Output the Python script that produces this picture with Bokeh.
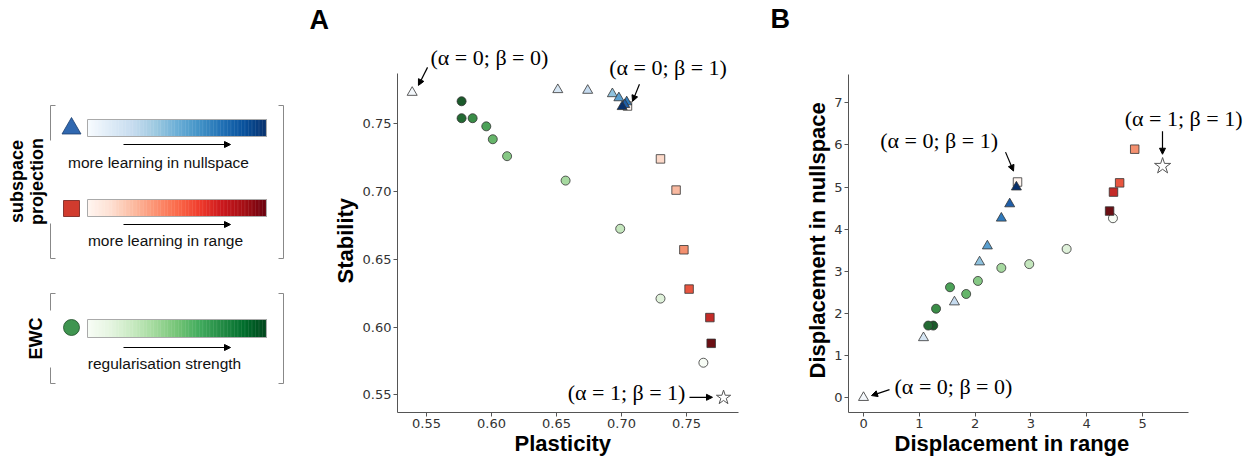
import numpy as np
from bokeh.plotting import figure
from bokeh.layouts import row
from bokeh.models import Range1d, FixedTicker, Arrow, NormalHead, Title
from bokeh.palettes import Blues256, Reds256, Greens256
from bokeh.core.properties import value
from bokeh.embed import file_html
from bokeh.resources import INLINE

# ---------------- data ----------------
# subspace projection, nullspace (triangles), light -> dark
tri_colors = ["#f4f8fc", "#d6e6f4", "#c6dbef", "#8fc2de", "#5a9fcf", "#2f7abc", "#1f5ea8", "#08306b"]
a_tri_plasticity = [0.539, 0.651, 0.674, 0.693, 0.698, 0.704, 0.7025, 0.7005]
a_tri_stability = [0.773, 0.775, 0.7745, 0.772, 0.769, 0.766, 0.764, 0.7625]
b_tri_range = [0.0, 1.075, 1.63, 2.08, 2.22, 2.47, 2.62, 2.74]
b_tri_null = [0.0, 1.42, 2.27, 3.22, 3.60, 4.26, 4.60, 5.00]

# subspace projection, range (squares)
a_sq_colors = ["#fff5f0", "#fcd9c9", "#f9b9a0", "#f4906f", "#e8553f", "#c42b28", "#6b0f14"]
a_sq_plasticity = [0.7046, 0.730, 0.742, 0.748, 0.752, 0.768, 0.769]
a_sq_stability = [0.763, 0.724, 0.701, 0.657, 0.628, 0.607, 0.588]
b_sq_colors = ["#fff5f0", "#f4906f", "#e8553f", "#c42b28", "#6b0f14"]
b_sq_range = [2.76, 4.86, 4.59, 4.48, 4.41]
b_sq_null = [5.12, 5.90, 5.10, 4.88, 4.43]

# EWC (circles), dark -> light
circ_colors = ["#1b5a2b", "#236a33", "#3a8d47", "#4ca258", "#66b56a", "#86c885", "#a6d9a0", "#c4e6bd", "#dff1da", "#f7fcf5"]
a_circ_plasticity = [0.577, 0.577, 0.5855, 0.596, 0.601, 0.612, 0.657, 0.699, 0.730, 0.763]
a_circ_stability = [0.7665, 0.754, 0.754, 0.748, 0.7385, 0.726, 0.708, 0.6725, 0.621, 0.5737]
b_circ_range = [1.25, 1.16, 1.30, 1.55, 1.84, 2.05, 2.47, 2.97, 3.64, 4.47]
b_circ_null = [1.71, 1.71, 2.11, 2.62, 2.46, 2.77, 3.08, 3.17, 3.53, 4.26]

# alpha = 1; beta = 1 (star)
a_star = (0.7785, 0.548)
b_star = (5.36, 5.50)

a_xticks = [0.55, 0.60, 0.65, 0.70, 0.75]
a_yticks = [0.55, 0.60, 0.65, 0.70, 0.75]
b_xticks = [0, 1, 2, 3, 4, 5]
b_yticks = [0, 1, 2, 3, 4, 5, 6, 7]

LAB_FONT = "Liberation Sans"
TICK_FONT = "DejaVu Sans"
ANN_FONT = "Liberation Serif"
EDGE = "#333333"


def axis_title(p, text, side, offset):
    p.add_layout(Title(text=text, align="left", offset=offset, text_font=LAB_FONT,
                       text_font_style="bold", text_font_size="22px", text_color="black",
                       standoff=0, vertical_align="top"), side)


def style_axes(p, xticks, yticks, fmt, xbounds, ybounds):
    p.xaxis.ticker = FixedTicker(ticks=xticks)
    p.yaxis.ticker = FixedTicker(ticks=yticks)
    p.xaxis.major_label_overrides = {t: fmt(t) for t in xticks}
    p.yaxis.major_label_overrides = {t: fmt(t) for t in yticks}
    p.xaxis.bounds = xbounds
    p.yaxis.bounds = ybounds
    for ax in (p.xaxis, p.yaxis):
        ax.major_label_text_font = TICK_FONT
        ax.major_label_text_font_size = "13px"
        ax.major_label_text_color = "#333333"
        ax.axis_line_color = "#555555"
        ax.major_tick_line_color = "#555555"
        ax.major_tick_out = 4
        ax.major_tick_in = 0
        ax.minor_tick_out = 0
        ax.minor_tick_in = 0
        ax.major_label_standoff = 2
    p.grid.visible = False
    p.outline_line_color = None
    p.background_fill_color = "white"
    p.border_fill_color = "white"


def annotate(p, x, y, label, align="left"):
    p.text(x=[x], y=[y], text=[label], text_font=value(ANN_FONT), text_font_size="22px",
           text_align=align, text_baseline="middle", text_color="black")


def arrow(p, x0, y0, x1, y1):
    p.add_layout(Arrow(end=NormalHead(size=6, fill_color="black", line_color="black", line_width=1),
                       x_start=x0, y_start=y0, x_end=x1, y_end=y1, line_color="black", line_width=1.2))


# ---------------- legend panel ----------------
# frame covers pixel rows 0..412 (aligned with the panels' frames); y runs downward
pl = figure(width=330, height=458, x_range=Range1d(0, 330), y_range=Range1d(412, 0),
            x_axis_type=None, y_axis_type=None,
            output_backend="svg", toolbar_location=None, min_border_left=0, min_border_right=0,
            min_border_top=0, min_border_bottom=46)
pl.grid.visible = False
pl.outline_line_color = None

bar_left, bar_right = 87, 266
bars = [(119, 136, Blues256), (199, 216, Reds256), (319, 337, Greens256)]
for top, bottom, pal in bars:
    cols = list(reversed(pal))[::2]
    n = len(cols)
    w = (bar_right - bar_left) / n
    lefts = [bar_left + i * w for i in range(n)]
    pl.quad(left=lefts, right=[l + w + 0.4 for l in lefts], top=[top] * n, bottom=[bottom] * n,
            fill_color=cols, line_color=None)
    pl.quad(left=[bar_left], right=[bar_right], top=[top], bottom=[bottom], fill_color=None,
            line_color="#aaaaaa", line_width=1)

pl.scatter(x=[71], y=[128], marker="triangle", size=19, fill_color="#3068b0", line_color="#1d3f6e", line_width=0.8)
pl.scatter(x=[71], y=[208], marker="square", size=16, fill_color="#d13b2e", line_color="#6e1c16", line_width=0.8)
pl.scatter(x=[71], y=[327], marker="circle", size=16, fill_color="#3f9550", line_color="#1e4d27", line_width=0.8)

for yy in (144, 224, 347):
    arrow(pl, 123, yy, 230, yy)

leg_texts = ["more learning in nullspace", "more learning in range", "regularisation strength"]
pl.text(x=[158, 165, 164], y=[162, 240, 363], text=leg_texts, text_font=value(LAB_FONT),
        text_font_size="15.5px", text_align="center", text_baseline="middle", text_color="#111111")

pl.text(x=[26], y=[181], text=["subspace\nprojection"], angle=np.pi / 2, text_font=value(LAB_FONT),
        text_font_style="bold", text_font_size="18px", text_align="center", text_baseline="middle",
        text_line_height=1.0)
pl.text(x=[35], y=[338], text=["EWC"], angle=np.pi / 2, text_font=value(LAB_FONT),
        text_font_style="bold", text_font_size="18px", text_align="center", text_baseline="middle")

br = "#888888"
pl.multi_line(xs=[[55, 50, 50], [50, 50, 55], [278, 283, 283, 278],
                  [55, 50, 50], [50, 50, 55], [278, 283, 283, 278]],
              ys=[[105, 105, 140], [223, 258, 258], [105, 105, 258, 258],
                  [293, 293, 310], [367, 383, 383], [293, 293, 383, 383]],
              line_color=br, line_width=1)

pl.text(x=[309], y=[19], text=["A"], text_font=value(LAB_FONT), text_font_style="bold",
        text_font_size="27px", text_align="left", text_baseline="middle")

# ---------------- panel A ----------------
pa = figure(width=470, height=458, x_range=Range1d(0.5277, 0.8377), y_range=Range1d(0.537, 0.8408),
            output_backend="svg", toolbar_location=None, min_border_left=67, min_border_right=0,
            min_border_top=0, min_border_bottom=46)
style_axes(pa, a_xticks, a_yticks, lambda t: f"{t:.2f}", (0.5277, 0.79), (0.537, 0.787))
axis_title(pa, "Plasticity", "below", 117)
axis_title(pa, "Stability", "left", 129)

pa.scatter(a_circ_plasticity, a_circ_stability, marker="circle", size=9, fill_color=circ_colors,
           line_color=EDGE, line_width=0.8)
pa.scatter(a_sq_plasticity, a_sq_stability, marker="square", size=8.5, fill_color=a_sq_colors,
           line_color=EDGE, line_width=0.8)
pa.scatter(a_tri_plasticity, a_tri_stability, marker="triangle", size=10, fill_color=tri_colors,
           line_color=EDGE, line_width=0.8)
pa.scatter([a_star[0]], [a_star[1]], marker="star", size=15, fill_color="white", line_color="#555555",
           line_width=1)

annotate(pa, 0.5531, 0.7989, "(α = 0; β = 0)")
arrow(pa, 0.5508, 0.7915, 0.5438, 0.7782)
annotate(pa, 0.6905, 0.7915, "(α = 0; β = 1)")
arrow(pa, 0.7138, 0.779, 0.7085, 0.7664)
annotate(pa, 0.7492, 0.5518, "(α = 1; β = 1)", align="right")
arrow(pa, 0.7523, 0.5482, 0.770, 0.5482)

pa.text(x=[0.8146], y=[0.8268], text=["B"], text_font=value(LAB_FONT), text_font_style="bold",
        text_font_size="27px", text_align="left", text_baseline="middle")

# ---------------- panel B ----------------
pb = figure(width=452, height=458, x_range=Range1d(-0.269, 6.971), y_range=Range1d(-0.355, 9.432),
            output_backend="svg", toolbar_location=None, min_border_left=48, min_border_right=0,
            min_border_top=0, min_border_bottom=45)
style_axes(pb, b_xticks, b_yticks, lambda t: f"{t}", (-0.269, 5.82), (-0.355, 7.68))
axis_title(pb, "Displacement in range", "below", 46)
axis_title(pb, "Displacement in nullspace", "left", 34)

pb.scatter(b_circ_range, b_circ_null, marker="circle", size=9, fill_color=circ_colors,
           line_color=EDGE, line_width=0.8)
pb.scatter(b_sq_range, b_sq_null, marker="square", size=8.5, fill_color=b_sq_colors,
           line_color=EDGE, line_width=0.8)
pb.scatter(b_tri_range, b_tri_null, marker="triangle", size=10, fill_color=tri_colors,
           line_color=EDGE, line_width=0.8)
pb.scatter([b_star[0]], [b_star[1]], marker="star", size=17, fill_color="white", line_color="#555555",
           line_width=1)

annotate(pb, 0.30, 6.11, "(α = 0; β = 1)")
arrow(pb, 2.545, 5.83, 2.688, 5.38)
annotate(pb, 4.68, 6.635, "(α = 1; β = 1)")
arrow(pb, 5.358, 6.327, 5.358, 5.78)
annotate(pb, 0.556, 0.26, "(α = 0; β = 0)")
arrow(pb, 0.466, 0.19, 0.143, 0.047)

layout = row(pl, pa, pb)
open("out.html", "w").write(file_html(layout, INLINE))
